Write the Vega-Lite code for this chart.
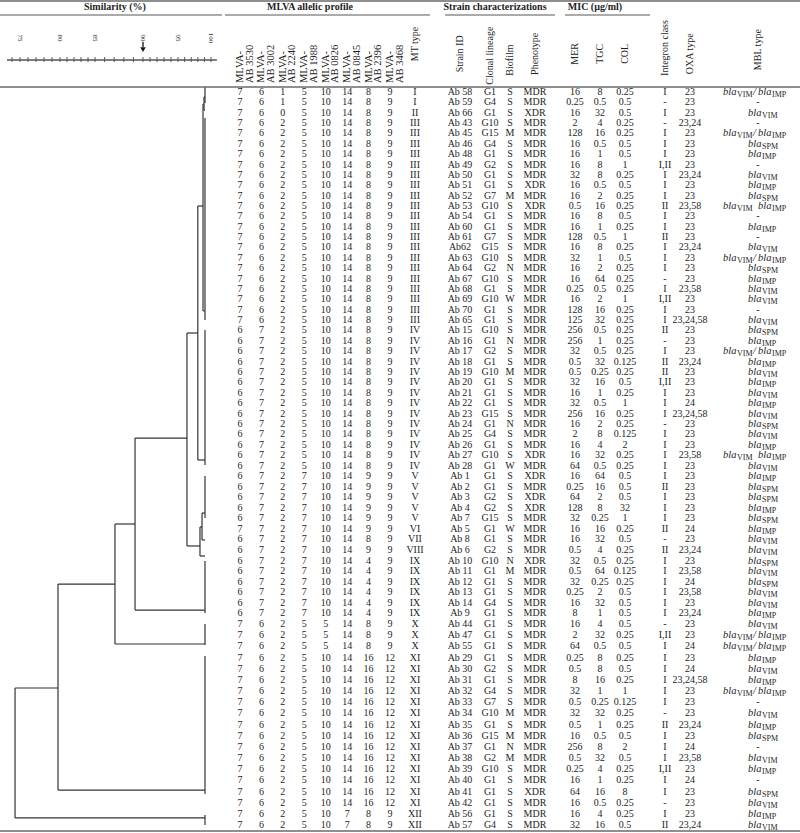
{
"$schema":"https://vega.github.io/schema/vega-lite/v6.json",
"width":800,"height":833,"padding":0,"autosize":{"type":"none"},
"background":"#ffffff",
"config":{"view":{"stroke":null},"text":{"font":"Liberation Serif","fontSize":10,"color":"#1e1e1e","baseline":"middle"}},
"datasets":{
"strains":[
{"StrainID":"Ab 58","a1":7,"a2":6,"a3":1,"a4":5,"a5":10,"a6":14,"a7":8,"a8":9,"MT":"I","Clonal":"G1","Biofilm":"S","Phenotype":"MDR","MER":"16","TGC":"8","COL":"0.25","Integron":"I","OXA":"23","g1":"VIM","sep":"/","g2":"IMP"},
{"StrainID":"Ab 59","a1":7,"a2":6,"a3":1,"a4":5,"a5":10,"a6":14,"a7":8,"a8":9,"MT":"I","Clonal":"G4","Biofilm":"S","Phenotype":"MDR","MER":"0.25","TGC":"0.5","COL":"0.5","Integron":"-","OXA":"23"},
{"StrainID":"Ab 66","a1":7,"a2":6,"a3":0,"a4":5,"a5":10,"a6":14,"a7":8,"a8":9,"MT":"II","Clonal":"G1","Biofilm":"S","Phenotype":"XDR","MER":"16","TGC":"32","COL":"0.5","Integron":"I","OXA":"23","g1":"VIM"},
{"StrainID":"Ab 43","a1":7,"a2":6,"a3":2,"a4":5,"a5":10,"a6":14,"a7":8,"a8":9,"MT":"III","Clonal":"G10","Biofilm":"S","Phenotype":"MDR","MER":"2","TGC":"4","COL":"0.25","Integron":"-","OXA":"23,24"},
{"StrainID":"Ab 45","a1":7,"a2":6,"a3":2,"a4":5,"a5":10,"a6":14,"a7":8,"a8":9,"MT":"III","Clonal":"G15","Biofilm":"M","Phenotype":"MDR","MER":"128","TGC":"16","COL":"0.25","Integron":"I","OXA":"23","g1":"VIM","sep":"/","g2":"IMP"},
{"StrainID":"Ab 46","a1":7,"a2":6,"a3":2,"a4":5,"a5":10,"a6":14,"a7":8,"a8":9,"MT":"III","Clonal":"G4","Biofilm":"S","Phenotype":"MDR","MER":"16","TGC":"0.5","COL":"0.5","Integron":"I","OXA":"23","g1":"SPM"},
{"StrainID":"Ab 48","a1":7,"a2":6,"a3":2,"a4":5,"a5":10,"a6":14,"a7":8,"a8":9,"MT":"III","Clonal":"G1","Biofilm":"S","Phenotype":"MDR","MER":"16","TGC":"1","COL":"0.5","Integron":"I","OXA":"23","g1":"IMP"},
{"StrainID":"Ab 49","a1":7,"a2":6,"a3":2,"a4":5,"a5":10,"a6":14,"a7":8,"a8":9,"MT":"III","Clonal":"G2","Biofilm":"S","Phenotype":"MDR","MER":"16","TGC":"8","COL":"1","Integron":"I,II","OXA":"23"},
{"StrainID":"Ab 50","a1":7,"a2":6,"a3":2,"a4":5,"a5":10,"a6":14,"a7":8,"a8":9,"MT":"III","Clonal":"G1","Biofilm":"S","Phenotype":"MDR","MER":"32","TGC":"8","COL":"0.25","Integron":"I","OXA":"23,24","g1":"VIM"},
{"StrainID":"Ab 51","a1":7,"a2":6,"a3":2,"a4":5,"a5":10,"a6":14,"a7":8,"a8":9,"MT":"III","Clonal":"G1","Biofilm":"S","Phenotype":"XDR","MER":"16","TGC":"0.5","COL":"0.5","Integron":"I","OXA":"23","g1":"IMP"},
{"StrainID":"Ab 52","a1":7,"a2":6,"a3":2,"a4":5,"a5":10,"a6":14,"a7":8,"a8":9,"MT":"III","Clonal":"G7","Biofilm":"M","Phenotype":"MDR","MER":"16","TGC":"2","COL":"0.25","Integron":"I","OXA":"23","g1":"SPM"},
{"StrainID":"Ab 53","a1":7,"a2":6,"a3":2,"a4":5,"a5":10,"a6":14,"a7":8,"a8":9,"MT":"III","Clonal":"G10","Biofilm":"S","Phenotype":"XDR","MER":"0.5","TGC":"16","COL":"0.25","Integron":"II","OXA":"23,58","g1":"VIM","sep":" ","g2":"IMP"},
{"StrainID":"Ab 54","a1":7,"a2":6,"a3":2,"a4":5,"a5":10,"a6":14,"a7":8,"a8":9,"MT":"III","Clonal":"G1","Biofilm":"S","Phenotype":"MDR","MER":"16","TGC":"8","COL":"0.5","Integron":"I","OXA":"23"},
{"StrainID":"Ab 60","a1":7,"a2":6,"a3":2,"a4":5,"a5":10,"a6":14,"a7":8,"a8":9,"MT":"III","Clonal":"G1","Biofilm":"S","Phenotype":"MDR","MER":"16","TGC":"1","COL":"0.25","Integron":"I","OXA":"23","g1":"IMP"},
{"StrainID":"Ab 61","a1":7,"a2":6,"a3":2,"a4":5,"a5":10,"a6":14,"a7":8,"a8":9,"MT":"III","Clonal":"G7","Biofilm":"S","Phenotype":"MDR","MER":"128","TGC":"0.5","COL":"1","Integron":"II","OXA":"23"},
{"StrainID":"Ab62","a1":7,"a2":6,"a3":2,"a4":5,"a5":10,"a6":14,"a7":8,"a8":9,"MT":"III","Clonal":"G15","Biofilm":"S","Phenotype":"MDR","MER":"16","TGC":"8","COL":"0.25","Integron":"I","OXA":"23,24","g1":"VIM"},
{"StrainID":"Ab 63","a1":7,"a2":6,"a3":2,"a4":5,"a5":10,"a6":14,"a7":8,"a8":9,"MT":"III","Clonal":"G10","Biofilm":"S","Phenotype":"MDR","MER":"32","TGC":"1","COL":"0.5","Integron":"I","OXA":"23","g1":"VIM","sep":"/","g2":"IMP"},
{"StrainID":"Ab 64","a1":7,"a2":6,"a3":2,"a4":5,"a5":10,"a6":14,"a7":8,"a8":9,"MT":"III","Clonal":"G2","Biofilm":"N","Phenotype":"MDR","MER":"16","TGC":"2","COL":"0.25","Integron":"I","OXA":"23","g1":"SPM"},
{"StrainID":"Ab 67","a1":7,"a2":6,"a3":2,"a4":5,"a5":10,"a6":14,"a7":8,"a8":9,"MT":"III","Clonal":"G10","Biofilm":"S","Phenotype":"MDR","MER":"16","TGC":"64","COL":"0.25","Integron":"-","OXA":"23","g1":"IMP"},
{"StrainID":"Ab 68","a1":7,"a2":6,"a3":2,"a4":5,"a5":10,"a6":14,"a7":8,"a8":9,"MT":"III","Clonal":"G1","Biofilm":"S","Phenotype":"MDR","MER":"0.25","TGC":"0.5","COL":"0.25","Integron":"I","OXA":"23,58","g1":"VIM"},
{"StrainID":"Ab 69","a1":7,"a2":6,"a3":2,"a4":5,"a5":10,"a6":14,"a7":8,"a8":9,"MT":"III","Clonal":"G10","Biofilm":"W","Phenotype":"MDR","MER":"16","TGC":"2","COL":"1","Integron":"I,II","OXA":"23","g1":"VIM"},
{"StrainID":"Ab 70","a1":7,"a2":6,"a3":2,"a4":5,"a5":10,"a6":14,"a7":8,"a8":9,"MT":"III","Clonal":"G1","Biofilm":"S","Phenotype":"MDR","MER":"128","TGC":"16","COL":"0.25","Integron":"I","OXA":"23"},
{"StrainID":"Ab 65","a1":7,"a2":6,"a3":2,"a4":5,"a5":10,"a6":14,"a7":8,"a8":9,"MT":"III","Clonal":"G1","Biofilm":"S","Phenotype":"MDR","MER":"125","TGC":"32","COL":"0.25","Integron":"I","OXA":"23,24,58","g1":"VIM"},
{"StrainID":"Ab 15","a1":6,"a2":7,"a3":2,"a4":5,"a5":10,"a6":14,"a7":8,"a8":9,"MT":"IV","Clonal":"G10","Biofilm":"S","Phenotype":"MDR","MER":"256","TGC":"0.5","COL":"0.25","Integron":"II","OXA":"23","g1":"SPM"},
{"StrainID":"Ab 16","a1":6,"a2":7,"a3":2,"a4":5,"a5":10,"a6":14,"a7":8,"a8":9,"MT":"IV","Clonal":"G1","Biofilm":"N","Phenotype":"MDR","MER":"256","TGC":"1","COL":"0.25","Integron":"-","OXA":"23","g1":"IMP"},
{"StrainID":"Ab 17","a1":6,"a2":7,"a3":2,"a4":5,"a5":10,"a6":14,"a7":8,"a8":9,"MT":"IV","Clonal":"G2","Biofilm":"S","Phenotype":"MDR","MER":"32","TGC":"0.5","COL":"0.25","Integron":"I","OXA":"23","g1":"VIM","sep":"/","g2":"IMP"},
{"StrainID":"Ab 18","a1":6,"a2":7,"a3":2,"a4":5,"a5":10,"a6":14,"a7":8,"a8":9,"MT":"IV","Clonal":"G1","Biofilm":"S","Phenotype":"MDR","MER":"0.5","TGC":"32","COL":"0.125","Integron":"II","OXA":"23,24","g1":"IMP"},
{"StrainID":"Ab 19","a1":6,"a2":7,"a3":2,"a4":5,"a5":10,"a6":14,"a7":8,"a8":9,"MT":"IV","Clonal":"G10","Biofilm":"M","Phenotype":"MDR","MER":"0.5","TGC":"0.25","COL":"0.25","Integron":"II","OXA":"23","g1":"VIM"},
{"StrainID":"Ab 20","a1":6,"a2":7,"a3":2,"a4":5,"a5":10,"a6":14,"a7":8,"a8":9,"MT":"IV","Clonal":"G1","Biofilm":"S","Phenotype":"MDR","MER":"32","TGC":"16","COL":"0.5","Integron":"I,II","OXA":"23","g1":"IMP"},
{"StrainID":"Ab 21","a1":6,"a2":7,"a3":2,"a4":5,"a5":10,"a6":14,"a7":8,"a8":9,"MT":"IV","Clonal":"G1","Biofilm":"S","Phenotype":"MDR","MER":"16","TGC":"1","COL":"0.25","Integron":"I","OXA":"23","g1":"VIM"},
{"StrainID":"Ab 22","a1":6,"a2":7,"a3":2,"a4":5,"a5":10,"a6":14,"a7":8,"a8":9,"MT":"IV","Clonal":"G1","Biofilm":"S","Phenotype":"MDR","MER":"32","TGC":"0.5","COL":"1","Integron":"I","OXA":"24","g1":"IMP"},
{"StrainID":"Ab 23","a1":6,"a2":7,"a3":2,"a4":5,"a5":10,"a6":14,"a7":8,"a8":9,"MT":"IV","Clonal":"G15","Biofilm":"S","Phenotype":"MDR","MER":"256","TGC":"16","COL":"0.25","Integron":"I","OXA":"23,24,58","g1":"VIM"},
{"StrainID":"Ab 24","a1":6,"a2":7,"a3":2,"a4":5,"a5":10,"a6":14,"a7":8,"a8":9,"MT":"IV","Clonal":"G1","Biofilm":"N","Phenotype":"MDR","MER":"16","TGC":"2","COL":"0.25","Integron":"-","OXA":"23","g1":"SPM"},
{"StrainID":"Ab 25","a1":6,"a2":7,"a3":2,"a4":5,"a5":10,"a6":14,"a7":8,"a8":9,"MT":"IV","Clonal":"G4","Biofilm":"S","Phenotype":"MDR","MER":"2","TGC":"8","COL":"0.125","Integron":"I","OXA":"23","g1":"VIM"},
{"StrainID":"Ab 26","a1":6,"a2":7,"a3":2,"a4":5,"a5":10,"a6":14,"a7":8,"a8":9,"MT":"IV","Clonal":"G1","Biofilm":"S","Phenotype":"MDR","MER":"16","TGC":"4","COL":"2","Integron":"I","OXA":"23","g1":"IMP"},
{"StrainID":"Ab 27","a1":6,"a2":7,"a3":2,"a4":5,"a5":10,"a6":14,"a7":8,"a8":9,"MT":"IV","Clonal":"G10","Biofilm":"S","Phenotype":"XDR","MER":"16","TGC":"32","COL":"0.25","Integron":"I","OXA":"23,58","g1":"VIM","sep":"","g2":"IMP"},
{"StrainID":"Ab 28","a1":6,"a2":7,"a3":2,"a4":5,"a5":10,"a6":14,"a7":8,"a8":9,"MT":"IV","Clonal":"G1","Biofilm":"W","Phenotype":"MDR","MER":"64","TGC":"0.5","COL":"0.25","Integron":"I","OXA":"23","g1":"VIM"},
{"StrainID":"Ab 1","a1":6,"a2":7,"a3":2,"a4":7,"a5":10,"a6":14,"a7":9,"a8":9,"MT":"V","Clonal":"G1","Biofilm":"S","Phenotype":"XDR","MER":"16","TGC":"64","COL":"0.5","Integron":"I","OXA":"23","g1":"IMP"},
{"StrainID":"Ab 2","a1":6,"a2":7,"a3":2,"a4":7,"a5":10,"a6":14,"a7":9,"a8":9,"MT":"V","Clonal":"G1","Biofilm":"S","Phenotype":"MDR","MER":"0.25","TGC":"16","COL":"0.5","Integron":"II","OXA":"23","g1":"SPM"},
{"StrainID":"Ab 3","a1":6,"a2":7,"a3":2,"a4":7,"a5":10,"a6":14,"a7":9,"a8":9,"MT":"V","Clonal":"G2","Biofilm":"S","Phenotype":"XDR","MER":"64","TGC":"2","COL":"0.5","Integron":"I","OXA":"23","g1":"SPM"},
{"StrainID":"Ab 4","a1":6,"a2":7,"a3":2,"a4":7,"a5":10,"a6":14,"a7":9,"a8":9,"MT":"V","Clonal":"G2","Biofilm":"S","Phenotype":"XDR","MER":"128","TGC":"8","COL":"32","Integron":"I","OXA":"23","g1":"IMP"},
{"StrainID":"Ab 7","a1":6,"a2":7,"a3":2,"a4":7,"a5":10,"a6":14,"a7":9,"a8":9,"MT":"V","Clonal":"G15","Biofilm":"S","Phenotype":"MDR","MER":"32","TGC":"0.25","COL":"1","Integron":"I","OXA":"23","g1":"SPM"},
{"StrainID":"Ab 5","a1":7,"a2":7,"a3":2,"a4":7,"a5":10,"a6":14,"a7":9,"a8":9,"MT":"VI","Clonal":"G1","Biofilm":"W","Phenotype":"MDR","MER":"16","TGC":"16","COL":"0.25","Integron":"II","OXA":"24","g1":"IMP"},
{"StrainID":"Ab 8","a1":6,"a2":7,"a3":2,"a4":7,"a5":10,"a6":14,"a7":8,"a8":9,"MT":"VII","Clonal":"G1","Biofilm":"S","Phenotype":"MDR","MER":"16","TGC":"32","COL":"0.5","Integron":"-","OXA":"23","g1":"VIM"},
{"StrainID":"Ab 6","a1":6,"a2":7,"a3":2,"a4":7,"a5":10,"a6":14,"a7":9,"a8":9,"MT":"VIII","Clonal":"G2","Biofilm":"S","Phenotype":"MDR","MER":"0.5","TGC":"4","COL":"0.25","Integron":"II","OXA":"23,24","g1":"VIM"},
{"StrainID":"Ab 10","a1":6,"a2":7,"a3":2,"a4":7,"a5":10,"a6":14,"a7":4,"a8":9,"MT":"IX","Clonal":"G10","Biofilm":"N","Phenotype":"XDR","MER":"32","TGC":"0.5","COL":"0.25","Integron":"I","OXA":"23","g1":"SPM"},
{"StrainID":"Ab 11","a1":6,"a2":7,"a3":2,"a4":7,"a5":10,"a6":14,"a7":4,"a8":9,"MT":"IX","Clonal":"G1","Biofilm":"M","Phenotype":"MDR","MER":"0.5","TGC":"64","COL":"0.125","Integron":"I","OXA":"23,58","g1":"VIM"},
{"StrainID":"Ab 12","a1":6,"a2":7,"a3":2,"a4":7,"a5":10,"a6":14,"a7":4,"a8":9,"MT":"IX","Clonal":"G1","Biofilm":"S","Phenotype":"MDR","MER":"32","TGC":"0.25","COL":"0.25","Integron":"I","OXA":"24","g1":" SPM"},
{"StrainID":"Ab 13","a1":6,"a2":7,"a3":2,"a4":7,"a5":10,"a6":14,"a7":4,"a8":9,"MT":"IX","Clonal":"G1","Biofilm":"S","Phenotype":"MDR","MER":"0.25","TGC":"2","COL":"0.5","Integron":"I","OXA":"23,58","g1":"VIM"},
{"StrainID":"Ab 14","a1":6,"a2":7,"a3":2,"a4":7,"a5":10,"a6":14,"a7":4,"a8":9,"MT":"IX","Clonal":"G4","Biofilm":"S","Phenotype":"MDR","MER":"16","TGC":"32","COL":"0.5","Integron":"I","OXA":"23","g1":"VIM"},
{"StrainID":"Ab 9","a1":6,"a2":7,"a3":2,"a4":7,"a5":10,"a6":14,"a7":4,"a8":9,"MT":"IX","Clonal":"G1","Biofilm":"S","Phenotype":"MDR","MER":"8","TGC":"1","COL":"0.5","Integron":"I","OXA":"23,24","g1":"IMP"},
{"StrainID":"Ab 44","a1":7,"a2":6,"a3":2,"a4":5,"a5":5,"a6":14,"a7":8,"a8":9,"MT":"X","Clonal":"G1","Biofilm":"S","Phenotype":"MDR","MER":"16","TGC":"4","COL":"0.5","Integron":"-","OXA":"23","g1":"VIM"},
{"StrainID":"Ab 47","a1":7,"a2":6,"a3":2,"a4":5,"a5":5,"a6":14,"a7":8,"a8":9,"MT":"X","Clonal":"G1","Biofilm":"S","Phenotype":"MDR","MER":"2","TGC":"32","COL":"0.25","Integron":"I,II","OXA":"23","g1":"VIM","sep":"/","g2":"IMP"},
{"StrainID":"Ab 55","a1":7,"a2":6,"a3":2,"a4":5,"a5":5,"a6":14,"a7":8,"a8":9,"MT":"X","Clonal":"G1","Biofilm":"S","Phenotype":"MDR","MER":"64","TGC":"0.5","COL":"0.5","Integron":"I","OXA":"24","g1":"VIM","sep":"/","g2":"IMP"},
{"StrainID":"Ab 29","a1":7,"a2":6,"a3":2,"a4":5,"a5":10,"a6":14,"a7":16,"a8":12,"MT":"XI","Clonal":"G1","Biofilm":"S","Phenotype":"MDR","MER":"0.25","TGC":"8","COL":"0.25","Integron":"I","OXA":"23","g1":"IMP"},
{"StrainID":"Ab 30","a1":7,"a2":6,"a3":2,"a4":5,"a5":10,"a6":14,"a7":16,"a8":12,"MT":"XI","Clonal":"G2","Biofilm":"S","Phenotype":"MDR","MER":"0.5","TGC":"8","COL":"0.5","Integron":"I","OXA":"24","g1":"VIM"},
{"StrainID":"Ab 31","a1":7,"a2":6,"a3":2,"a4":5,"a5":10,"a6":14,"a7":16,"a8":12,"MT":"XI","Clonal":"G1","Biofilm":"S","Phenotype":"MDR","MER":"8","TGC":"16","COL":"0.25","Integron":"I","OXA":"23,24,58","g1":"IMP"},
{"StrainID":"Ab 32","a1":7,"a2":6,"a3":2,"a4":5,"a5":10,"a6":14,"a7":16,"a8":12,"MT":"XI","Clonal":"G4","Biofilm":"S","Phenotype":"MDR","MER":"32","TGC":"1","COL":"1","Integron":"I","OXA":"23","g1":"VIM","sep":"/","g2":"IMP"},
{"StrainID":"Ab 33","a1":7,"a2":6,"a3":2,"a4":5,"a5":10,"a6":14,"a7":16,"a8":12,"MT":"XI","Clonal":"G7","Biofilm":"S","Phenotype":"MDR","MER":"0.5","TGC":"0.25","COL":"0.125","Integron":"I","OXA":"23"},
{"StrainID":"Ab 34","a1":7,"a2":6,"a3":2,"a4":5,"a5":10,"a6":14,"a7":16,"a8":12,"MT":"XI","Clonal":"G10","Biofilm":"M","Phenotype":"MDR","MER":"32","TGC":"32","COL":"0.25","Integron":"-","OXA":"23","g1":"VIM"},
{"StrainID":"Ab 35","a1":7,"a2":6,"a3":2,"a4":5,"a5":10,"a6":14,"a7":16,"a8":12,"MT":"XI","Clonal":"G1","Biofilm":"S","Phenotype":"MDR","MER":"0.5","TGC":"1","COL":"0.25","Integron":"II","OXA":"23,24","g1":"IMP"},
{"StrainID":"Ab 36","a1":7,"a2":6,"a3":2,"a4":5,"a5":10,"a6":14,"a7":16,"a8":12,"MT":"XI","Clonal":"G15","Biofilm":"M","Phenotype":"MDR","MER":"16","TGC":"0.5","COL":"0.5","Integron":"I","OXA":"23","g1":" SPM"},
{"StrainID":"Ab 37","a1":7,"a2":6,"a3":2,"a4":5,"a5":10,"a6":14,"a7":16,"a8":12,"MT":"XI","Clonal":"G1","Biofilm":"N","Phenotype":"MDR","MER":"256","TGC":"8","COL":"2","Integron":"I","OXA":"24"},
{"StrainID":"Ab 38","a1":7,"a2":6,"a3":2,"a4":5,"a5":10,"a6":14,"a7":16,"a8":12,"MT":"XI","Clonal":"G2","Biofilm":"M","Phenotype":"MDR","MER":"0.5","TGC":"32","COL":"0.5","Integron":"I","OXA":"23,58","g1":"VIM"},
{"StrainID":"Ab 39","a1":7,"a2":6,"a3":2,"a4":5,"a5":10,"a6":14,"a7":16,"a8":12,"MT":"XI","Clonal":"G10","Biofilm":"S","Phenotype":"MDR","MER":"0.25","TGC":"4","COL":"0.25","Integron":"I,II","OXA":"23","g1":"IMP"},
{"StrainID":"Ab 40","a1":7,"a2":6,"a3":2,"a4":5,"a5":10,"a6":14,"a7":16,"a8":12,"MT":"XI","Clonal":"G1","Biofilm":"S","Phenotype":"MDR","MER":"16","TGC":"1","COL":"0.25","Integron":"I","OXA":"24"},
{"StrainID":"Ab 41","a1":7,"a2":6,"a3":2,"a4":5,"a5":10,"a6":14,"a7":16,"a8":12,"MT":"XI","Clonal":"G1","Biofilm":"S","Phenotype":"XDR","MER":"64","TGC":"16","COL":"8","Integron":"I","OXA":"23","g1":" SPM"},
{"StrainID":"Ab 42","a1":7,"a2":6,"a3":2,"a4":5,"a5":10,"a6":14,"a7":16,"a8":12,"MT":"XI","Clonal":"G1","Biofilm":"S","Phenotype":"MDR","MER":"16","TGC":"0.5","COL":"0.25","Integron":"-","OXA":"23","g1":"VIM"},
{"StrainID":"Ab 56","a1":7,"a2":6,"a3":2,"a4":5,"a5":10,"a6":7,"a7":8,"a8":9,"MT":"XII","Clonal":"G1","Biofilm":"S","Phenotype":"MDR","MER":"16","TGC":"4","COL":"0.25","Integron":"I","OXA":"23","g1":"IMP"},
{"StrainID":"Ab 57","a1":7,"a2":6,"a3":2,"a4":5,"a5":10,"a6":7,"a7":8,"a8":9,"MT":"XII","Clonal":"G4","Biofilm":"S","Phenotype":"MDR","MER":"32","TGC":"16","COL":"0.5","Integron":"II","OXA":"23,24","g1":"VIM"}
],
"dendro":[
{"s1":98.94,"r1":1.48,"s2":98.94,"r2":2.74},{"s1":98.94,"r1":1.48,"s2":99.09,"r2":1.48},{"s1":98.94,"r1":2.74,"s2":99.09,"r2":2.74},
{"s1":98.79,"r1":2.16,"s2":98.79,"r2":22.13},{"s1":98.79,"r1":2.16,"s2":98.94,"r2":2.16},{"s1":98.79,"r1":22.13,"s2":99.09,"r2":22.13},
{"s1":98.0,"r1":12.0,"s2":98.0,"r2":36.46},{"s1":98.0,"r1":12.0,"s2":98.79,"r2":12.0},{"s1":98.0,"r1":36.46,"s2":99.09,"r2":36.46},
{"s1":96.36,"r1":24.25,"s2":96.36,"r2":44.62},{"s1":96.36,"r1":24.25,"s2":98.0,"r2":24.25},{"s1":96.36,"r1":44.62,"s2":98.33,"r2":44.62},
{"s1":98.64,"r1":41.5,"s2":98.64,"r2":44.05},{"s1":98.64,"r1":41.5,"s2":99.09,"r2":41.5},{"s1":98.64,"r1":44.05,"s2":99.09,"r2":44.05},
{"s1":98.33,"r1":42.82,"s2":98.33,"r2":45.57},{"s1":98.33,"r1":42.82,"s2":98.64,"r2":42.82},{"s1":98.33,"r1":45.57,"s2":99.09,"r2":45.57},
{"s1":89.17,"r1":34.35,"s2":89.17,"r2":50.68},{"s1":89.17,"r1":34.35,"s2":96.36,"r2":34.35},{"s1":89.17,"r1":50.68,"s2":99.09,"r2":50.68},
{"s1":87.08,"r1":42.54,"s2":87.08,"r2":53.79},{"s1":87.08,"r1":42.54,"s2":89.17,"r2":42.54},{"s1":87.08,"r1":53.79,"s2":99.09,"r2":53.79},
{"s1":79.75,"r1":48.22,"s2":79.75,"r2":66.87},{"s1":79.75,"r1":48.22,"s2":87.08,"r2":48.22},{"s1":79.75,"r1":66.87,"s2":99.09,"r2":66.87},
{"s1":74.38,"r1":57.73,"s2":74.38,"r2":69.37},{"s1":74.38,"r1":57.73,"s2":79.75,"r2":57.73},{"s1":74.38,"r1":69.37,"s2":99.09,"r2":69.37},
{"s1":99.09,"r1":0.52,"s2":99.09,"r2":2.06},{"s1":99.09,"r1":3.51,"s2":99.09,"r2":23.0},{"s1":99.09,"r1":23.96,"s2":99.09,"r2":36.94},{"s1":99.09,"r1":38.0,"s2":99.09,"r2":41.97},{"s1":99.09,"r1":46.04,"s2":99.09,"r2":50.96},{"s1":99.09,"r1":52.0,"s2":99.09,"r2":53.88},{"s1":99.09,"r1":54.87,"s2":99.09,"r2":67.22},{"s1":99.09,"r1":69.1,"s2":99.09,"r2":70.0}
]
},
"resolve":{"scale":{"x":"independent"}},
"layer":[
{"data":{"values":[{}]},"mark":{"type":"rule","stroke":"#8f8f8f","strokeWidth":2},"encoding":{"y":{"datum":-8.89,"type":"quantitative","scale":{"type":"linear","domain":[-9,1,23,38,52,70,70.72],"range":[0,92,320,476,624,825,833],"nice":false,"zero":false},"axis":null}}},
{"data":{"values":[{}]},"mark":{"type":"rule","stroke":"#8f8f8f","strokeWidth":2},"encoding":{"y":{"datum":0.46,"type":"quantitative","scale":{"type":"linear","domain":[-9,1,23,38,52,70,70.72],"range":[0,92,320,476,624,825,833],"nice":false,"zero":false},"axis":null}}},
{"data":{"values":[{}]},"mark":{"type":"rule","stroke":"#8f8f8f","strokeWidth":2},"encoding":{"y":{"datum":70.54,"type":"quantitative","scale":{"type":"linear","domain":[-9,1,23,38,52,70,70.72],"range":[0,92,320,476,624,825,833],"nice":false,"zero":false},"axis":null}}},
{"data":{"values":[{}]},"mark":{"type":"rule","stroke":"#8f8f8f","strokeWidth":1.5},"encoding":{"x":{"datum":72.5,"type":"quantitative","scale":{"type":"linear","domain":[72.5,75,80,85,90,95,100,101.7],"range":[0,20,60,95,143,178,211,222],"nice":false,"zero":false},"axis":null},"x2":{"datum":101.7},"y":{"datum":-7.37,"type":"quantitative","scale":{"type":"linear","domain":[-9,1,23,38,52,70,70.72],"range":[0,92,320,476,624,825,833],"nice":false,"zero":false},"axis":null}}},
{"data":{"values":[{"a":"uML","b":"uMR"},{"a":"uSL","b":"uSR"},{"a":"uCL","b":"uCR"}]},"mark":{"type":"rule","stroke":"#8f8f8f","strokeWidth":1.5},"encoding":{"x":{"field":"a","type":"nominal","scale":{"type":"point","domain":["uML","_1","_2","_3","_4","_5","_6","_7","_8","_9","_10","_11","_12","_13","_14","_15","_16","tA","_18","_19","_20","_21","_22","_23","_24","_25","_26","_27","_28","_29","_30","_31","_32","_33","_34","_35","_36","_37","MT","_39","_40","uMR","_42","_43","uSL","_45","_46","StrainID","_48","_49","_50","_51","_52","Clonal","tS","_55","_56","Biofilm","_58","_59","_60","_61","Phenotype","_63","_64","_65","uSR","_67","uCL","_69","MER","_71","_72","_73","tM","TGC","_76","_77","_78","_79","COL","_81","_82","_83","_84","uCR","_86","_87","Integron","_89","_90","_91","_92","OXA","_94","_95","_96","_97","_98","_99","_100","_101","_102","MBL"],"range":[225,740],"padding":0},"axis":null},"x2":{"field":"b"},"y":{"datum":-7.37,"type":"quantitative","scale":{"type":"linear","domain":[-9,1,23,38,52,70,70.72],"range":[0,92,320,476,624,825,833],"nice":false,"zero":false},"axis":null}}},
{"data":{"values":[{}]},"mark":{"type":"text","fontWeight":"bold","fontSize":10},"encoding":{"x":{"datum":87.08,"type":"quantitative","scale":{"type":"linear","domain":[72.5,75,80,85,90,95,100,101.7],"range":[0,20,60,95,143,178,211,222],"nice":false,"zero":false},"axis":null},"y":{"datum":-8.24,"type":"quantitative","scale":{"type":"linear","domain":[-9,1,23,38,52,70,70.72],"range":[0,92,320,476,624,825,833],"nice":false,"zero":false},"axis":null},"text":{"value":"Similarity (%)"}}},
{"data":{"values":[{"k":"tA","t":"MLVA allelic profile"},{"k":"tS","t":"Strain characterizations"},{"k":"tM","t":"MIC (µg/ml)"}]},"mark":{"type":"text","fontWeight":"bold","fontSize":10},"encoding":{"x":{"field":"k","type":"nominal","scale":{"type":"point","domain":["uML","_1","_2","_3","_4","_5","_6","_7","_8","_9","_10","_11","_12","_13","_14","_15","_16","tA","_18","_19","_20","_21","_22","_23","_24","_25","_26","_27","_28","_29","_30","_31","_32","_33","_34","_35","_36","_37","MT","_39","_40","uMR","_42","_43","uSL","_45","_46","StrainID","_48","_49","_50","_51","_52","Clonal","tS","_55","_56","Biofilm","_58","_59","_60","_61","Phenotype","_63","_64","_65","uSR","_67","uCL","_69","MER","_71","_72","_73","tM","TGC","_76","_77","_78","_79","COL","_81","_82","_83","_84","uCR","_86","_87","Integron","_89","_90","_91","_92","OXA","_94","_95","_96","_97","_98","_99","_100","_101","_102","MBL"],"range":[225,740],"padding":0},"axis":null},"y":{"datum":-8.24,"type":"quantitative","scale":{"type":"linear","domain":[-9,1,23,38,52,70,70.72],"range":[0,92,320,476,624,825,833],"nice":false,"zero":false},"axis":null},"text":{"field":"t","type":"nominal"}}},
{"data":{"values":[{}]},"mark":{"type":"rule","stroke":"#555555","strokeWidth":1.5},"encoding":{"x":{"datum":73.375,"type":"quantitative","scale":{"type":"linear","domain":[72.5,75,80,85,90,95,100,101.7],"range":[0,20,60,95,143,178,211,222],"nice":false,"zero":false},"axis":null},"x2":{"datum":100.91},"y":{"datum":-2.48,"type":"quantitative","scale":{"type":"linear","domain":[-9,1,23,38,52,70,70.72],"range":[0,92,320,476,624,825,833],"nice":false,"zero":false},"axis":null}}},
{"data":{"values":[{"s":74},{"s":75},{"s":76},{"s":77},{"s":78},{"s":79},{"s":80},{"s":81},{"s":82},{"s":83},{"s":84},{"s":85},{"s":86},{"s":87},{"s":88},{"s":89},{"s":90},{"s":91},{"s":92},{"s":93},{"s":94},{"s":95},{"s":96},{"s":97},{"s":98},{"s":99},{"s":100}]},"mark":{"type":"rule","stroke":"#555555","strokeWidth":1},"encoding":{"x":{"field":"s","type":"quantitative","scale":{"type":"linear","domain":[72.5,75,80,85,90,95,100,101.7],"range":[0,20,60,95,143,178,211,222],"nice":false,"zero":false},"axis":null},"y":{"datum":-2.8,"type":"quantitative","scale":{"type":"linear","domain":[-9,1,23,38,52,70,70.72],"range":[0,92,320,476,624,825,833],"nice":false,"zero":false},"axis":null},"y2":{"datum":-2.26}}},
{"data":{"values":[{"s":75},{"s":80},{"s":85},{"s":90},{"s":95},{"s":100}]},"mark":{"type":"text","angle":90,"fontSize":7,"align":"center"},"encoding":{"x":{"field":"s","type":"quantitative","scale":{"type":"linear","domain":[72.5,75,80,85,90,95,100,101.7],"range":[0,20,60,95,143,178,211,222],"nice":false,"zero":false},"axis":null},"y":{"datum":-4.87,"type":"quantitative","scale":{"type":"linear","domain":[-9,1,23,38,52,70,70.72],"range":[0,92,320,476,624,825,833],"nice":false,"zero":false},"axis":null},"text":{"field":"s","type":"nominal"}}},
{"data":{"values":[{}]},"mark":{"type":"rule","stroke":"#111111","strokeWidth":1.3},"encoding":{"x":{"datum":90,"type":"quantitative","scale":{"type":"linear","domain":[72.5,75,80,85,90,95,100,101.7],"range":[0,20,60,95,143,178,211,222],"nice":false,"zero":false},"axis":null},"y":{"datum":-4.43,"type":"quantitative","scale":{"type":"linear","domain":[-9,1,23,38,52,70,70.72],"range":[0,92,320,476,624,825,833],"nice":false,"zero":false},"axis":null},"y2":{"datum":-3.89}}},
{"data":{"values":[{}]},"mark":{"type":"point","shape":"triangle-down","filled":true,"color":"#111111","size":30,"opacity":1},"encoding":{"x":{"datum":90,"type":"quantitative","scale":{"type":"linear","domain":[72.5,75,80,85,90,95,100,101.7],"range":[0,20,60,95,143,178,211,222],"nice":false,"zero":false},"axis":null},"y":{"datum":-3.6,"type":"quantitative","scale":{"type":"linear","domain":[-9,1,23,38,52,70,70.72],"range":[0,92,320,476,624,825,833],"nice":false,"zero":false},"axis":null}}},
{"data":{"values":[{"k":"a1","t":"MLVA-\nAB 3530"},{"k":"a2","t":"MLVA-\nAB 3002"},{"k":"a3","t":"MLVA-\nAB 2240"},{"k":"a4","t":"MLVA-\nAB 1988"},{"k":"a5","t":"MLVA-\nAB 0826"},{"k":"a6","t":"MLVA-\nAB 0845"},{"k":"a7","t":"MLVA-\nAB 2396"},{"k":"a8","t":"MLVA-\nAB 3468"}]},"mark":{"type":"text","angle":270,"align":"left","baseline":"middle","lineBreak":"\n","lineHeight":9.5,"fontSize":10.5},"encoding":{"x":{"field":"k","type":"nominal","scale":{"type":"point","domain":["a1","a2","a3","a4","a5","a6","a7","a8"],"range":[240,390],"padding":0},"axis":null},"y":{"datum":0.02,"type":"quantitative","scale":{"type":"linear","domain":[-9,1,23,38,52,70,70.72],"range":[0,92,320,476,624,825,833],"nice":false,"zero":false},"axis":null},"text":{"field":"t","type":"nominal"}}},
{"data":{"values":[{"k":"StrainID","t":"Strain ID"},{"k":"Phenotype","t":"Phenotype"},{"k":"MER","t":"MER"},{"k":"TGC","t":"TGC"},{"k":"COL","t":"COL"},{"k":"OXA","t":"OXA  type"}]},"mark":{"type":"text","angle":270,"align":"center","baseline":"middle","fontSize":10},"encoding":{"x":{"field":"k","type":"nominal","scale":{"type":"point","domain":["uML","_1","_2","_3","_4","_5","_6","_7","_8","_9","_10","_11","_12","_13","_14","_15","_16","tA","_18","_19","_20","_21","_22","_23","_24","_25","_26","_27","_28","_29","_30","_31","_32","_33","_34","_35","_36","_37","MT","_39","_40","uMR","_42","_43","uSL","_45","_46","StrainID","_48","_49","_50","_51","_52","Clonal","tS","_55","_56","Biofilm","_58","_59","_60","_61","Phenotype","_63","_64","_65","uSR","_67","uCL","_69","MER","_71","_72","_73","tM","TGC","_76","_77","_78","_79","COL","_81","_82","_83","_84","uCR","_86","_87","Integron","_89","_90","_91","_92","OXA","_94","_95","_96","_97","_98","_99","_100","_101","_102","MBL"],"range":[225,740],"padding":0},"axis":null},"y":{"datum":-3.15,"type":"quantitative","scale":{"type":"linear","domain":[-9,1,23,38,52,70,70.72],"range":[0,92,320,476,624,825,833],"nice":false,"zero":false},"axis":null},"text":{"field":"t","type":"nominal"}}},
{"data":{"values":[{"k":"MT","t":"MT type","y":-4.22},{"k":"Biofilm","t":"Biofilm","y":-2.47},{"k":"Integron","t":"Integron class","y":-3.78},{"k":"Clonal","t":"Clonal lineage","y":-2.95}]},"mark":{"type":"text","angle":270,"align":"center","baseline":"middle","fontSize":10},"encoding":{"x":{"field":"k","type":"nominal","scale":{"type":"point","domain":["uML","_1","_2","_3","_4","_5","_6","_7","_8","_9","_10","_11","_12","_13","_14","_15","_16","tA","_18","_19","_20","_21","_22","_23","_24","_25","_26","_27","_28","_29","_30","_31","_32","_33","_34","_35","_36","_37","MT","_39","_40","uMR","_42","_43","uSL","_45","_46","StrainID","_48","_49","_50","_51","_52","Clonal","tS","_55","_56","Biofilm","_58","_59","_60","_61","Phenotype","_63","_64","_65","uSR","_67","uCL","_69","MER","_71","_72","_73","tM","TGC","_76","_77","_78","_79","COL","_81","_82","_83","_84","uCR","_86","_87","Integron","_89","_90","_91","_92","OXA","_94","_95","_96","_97","_98","_99","_100","_101","_102","MBL"],"range":[225,740],"padding":0},"axis":null},"y":{"field":"y","type":"quantitative","scale":{"type":"linear","domain":[-9,1,23,38,52,70,70.72],"range":[0,92,320,476,624,825,833],"nice":false,"zero":false},"axis":null},"text":{"field":"t","type":"nominal"}}},
{"data":{"values":[{}]},"mark":{"type":"text","angle":270,"align":"center","baseline":"middle","fontSize":10,"dy":18},"encoding":{"x":{"datum":"MBL","type":"nominal","scale":{"type":"point","domain":["uML","_1","_2","_3","_4","_5","_6","_7","_8","_9","_10","_11","_12","_13","_14","_15","_16","tA","_18","_19","_20","_21","_22","_23","_24","_25","_26","_27","_28","_29","_30","_31","_32","_33","_34","_35","_36","_37","MT","_39","_40","uMR","_42","_43","uSL","_45","_46","StrainID","_48","_49","_50","_51","_52","Clonal","tS","_55","_56","Biofilm","_58","_59","_60","_61","Phenotype","_63","_64","_65","uSR","_67","uCL","_69","MER","_71","_72","_73","tM","TGC","_76","_77","_78","_79","COL","_81","_82","_83","_84","uCR","_86","_87","Integron","_89","_90","_91","_92","OXA","_94","_95","_96","_97","_98","_99","_100","_101","_102","MBL"],"range":[225,740],"padding":0},"axis":null},"y":{"datum":-3.6,"type":"quantitative","scale":{"type":"linear","domain":[-9,1,23,38,52,70,70.72],"range":[0,92,320,476,624,825,833],"nice":false,"zero":false},"axis":null},"text":{"value":"MBL type"}}},
{"data":{"name":"dendro"},"mark":{"type":"rule","stroke":"#333333","strokeWidth":1.2},"encoding":{"x":{"field":"s1","type":"quantitative","scale":{"type":"linear","domain":[72.5,75,80,85,90,95,100,101.7],"range":[0,20,60,95,143,178,211,222],"nice":false,"zero":false},"axis":null},"x2":{"field":"s2"},"y":{"field":"r1","type":"quantitative","scale":{"type":"linear","domain":[-9,1,23,38,52,70,70.72],"range":[0,92,320,476,624,825,833],"nice":false,"zero":false},"axis":null},"y2":{"field":"r2"}}},
{"data":{"name":"strains"},"transform":[{"window":[{"op":"row_number","as":"row"}]},{"fold":["a1","a2","a3","a4","a5","a6","a7","a8"],"as":["k","v"]}],"mark":{"type":"text"},"encoding":{"x":{"field":"k","type":"nominal","scale":{"type":"point","domain":["a1","a2","a3","a4","a5","a6","a7","a8"],"range":[240,390],"padding":0},"axis":null},"y":{"field":"row","type":"quantitative","scale":{"type":"linear","domain":[-9,1,23,38,52,70,70.72],"range":[0,92,320,476,624,825,833],"nice":false,"zero":false},"axis":null},"text":{"field":"v","type":"nominal"}}},
{"data":{"name":"strains"},"transform":[{"window":[{"op":"row_number","as":"row"}]},{"fold":["MT","StrainID","Clonal","Biofilm","Phenotype","MER","TGC","COL","Integron","OXA"],"as":["k","v"]}],"mark":{"type":"text"},"encoding":{"x":{"field":"k","type":"nominal","scale":{"type":"point","domain":["uML","_1","_2","_3","_4","_5","_6","_7","_8","_9","_10","_11","_12","_13","_14","_15","_16","tA","_18","_19","_20","_21","_22","_23","_24","_25","_26","_27","_28","_29","_30","_31","_32","_33","_34","_35","_36","_37","MT","_39","_40","uMR","_42","_43","uSL","_45","_46","StrainID","_48","_49","_50","_51","_52","Clonal","tS","_55","_56","Biofilm","_58","_59","_60","_61","Phenotype","_63","_64","_65","uSR","_67","uCL","_69","MER","_71","_72","_73","tM","TGC","_76","_77","_78","_79","COL","_81","_82","_83","_84","uCR","_86","_87","Integron","_89","_90","_91","_92","OXA","_94","_95","_96","_97","_98","_99","_100","_101","_102","MBL"],"range":[225,740],"padding":0},"axis":null},"y":{"field":"row","type":"quantitative","scale":{"type":"linear","domain":[-9,1,23,38,52,70,70.72],"range":[0,92,320,476,624,825,833],"nice":false,"zero":false},"axis":null},"text":{"field":"v","type":"nominal"}}},
{"data":{"name":"strains"},"transform":[{"window":[{"op":"row_number","as":"row"}]},{"filter":"datum.g1 == null"}],"mark":{"type":"text","align":"center","dx":18},"encoding":{"x":{"datum":"MBL","type":"nominal","scale":{"type":"point","domain":["uML","_1","_2","_3","_4","_5","_6","_7","_8","_9","_10","_11","_12","_13","_14","_15","_16","tA","_18","_19","_20","_21","_22","_23","_24","_25","_26","_27","_28","_29","_30","_31","_32","_33","_34","_35","_36","_37","MT","_39","_40","uMR","_42","_43","uSL","_45","_46","StrainID","_48","_49","_50","_51","_52","Clonal","tS","_55","_56","Biofilm","_58","_59","_60","_61","Phenotype","_63","_64","_65","uSR","_67","uCL","_69","MER","_71","_72","_73","tM","TGC","_76","_77","_78","_79","COL","_81","_82","_83","_84","uCR","_86","_87","Integron","_89","_90","_91","_92","OXA","_94","_95","_96","_97","_98","_99","_100","_101","_102","MBL"],"range":[225,740],"padding":0},"axis":null},"y":{"field":"row","type":"quantitative","scale":{"type":"linear","domain":[-9,1,23,38,52,70,70.72],"range":[0,92,320,476,624,825,833],"nice":false,"zero":false},"axis":null},"text":{"value":"-"}}},
{"data":{"name":"strains"},"transform":[{"window":[{"op":"row_number","as":"row"}]},{"filter":"datum.g1 != null && datum.g2 == null"}],"layer":[
{"mark":{"type":"text","align":"left","fontStyle":"italic","fontSize":10.5,"dx":8},"encoding":{"text":{"value":"bla"}}},
{"mark":{"type":"text","align":"left","fontSize":8,"dx":22,"dy":3},"encoding":{"text":{"field":"g1","type":"nominal"}}}
],"encoding":{"x":{"datum":"MBL","type":"nominal","scale":{"type":"point","domain":["uML","_1","_2","_3","_4","_5","_6","_7","_8","_9","_10","_11","_12","_13","_14","_15","_16","tA","_18","_19","_20","_21","_22","_23","_24","_25","_26","_27","_28","_29","_30","_31","_32","_33","_34","_35","_36","_37","MT","_39","_40","uMR","_42","_43","uSL","_45","_46","StrainID","_48","_49","_50","_51","_52","Clonal","tS","_55","_56","Biofilm","_58","_59","_60","_61","Phenotype","_63","_64","_65","uSR","_67","uCL","_69","MER","_71","_72","_73","tM","TGC","_76","_77","_78","_79","COL","_81","_82","_83","_84","uCR","_86","_87","Integron","_89","_90","_91","_92","OXA","_94","_95","_96","_97","_98","_99","_100","_101","_102","MBL"],"range":[225,740],"padding":0},"axis":null},"y":{"field":"row","type":"quantitative","scale":{"type":"linear","domain":[-9,1,23,38,52,70,70.72],"range":[0,92,320,476,624,825,833],"nice":false,"zero":false},"axis":null}}},
{"data":{"name":"strains"},"transform":[{"window":[{"op":"row_number","as":"row"}]},{"filter":"datum.g2 != null"}],"layer":[
{"mark":{"type":"text","align":"left","fontStyle":"italic","fontSize":10.5,"dx":-17},"encoding":{"text":{"value":"bla"}}},
{"mark":{"type":"text","align":"left","fontSize":8,"dx":-3,"dy":3},"encoding":{"text":{"field":"g1","type":"nominal"}}},
{"mark":{"type":"text","align":"left","fontStyle":"italic","fontSize":10.5,"dx":13},"encoding":{"text":{"field":"sep","type":"nominal"}}},
{"mark":{"type":"text","align":"left","fontStyle":"italic","fontSize":10.5,"dx":18},"encoding":{"text":{"value":"bla"}}},
{"mark":{"type":"text","align":"left","fontSize":8,"dx":32,"dy":3},"encoding":{"text":{"field":"g2","type":"nominal"}}}
],"encoding":{"x":{"datum":"MBL","type":"nominal","scale":{"type":"point","domain":["uML","_1","_2","_3","_4","_5","_6","_7","_8","_9","_10","_11","_12","_13","_14","_15","_16","tA","_18","_19","_20","_21","_22","_23","_24","_25","_26","_27","_28","_29","_30","_31","_32","_33","_34","_35","_36","_37","MT","_39","_40","uMR","_42","_43","uSL","_45","_46","StrainID","_48","_49","_50","_51","_52","Clonal","tS","_55","_56","Biofilm","_58","_59","_60","_61","Phenotype","_63","_64","_65","uSR","_67","uCL","_69","MER","_71","_72","_73","tM","TGC","_76","_77","_78","_79","COL","_81","_82","_83","_84","uCR","_86","_87","Integron","_89","_90","_91","_92","OXA","_94","_95","_96","_97","_98","_99","_100","_101","_102","MBL"],"range":[225,740],"padding":0},"axis":null},"y":{"field":"row","type":"quantitative","scale":{"type":"linear","domain":[-9,1,23,38,52,70,70.72],"range":[0,92,320,476,624,825,833],"nice":false,"zero":false},"axis":null}}}
]
}
